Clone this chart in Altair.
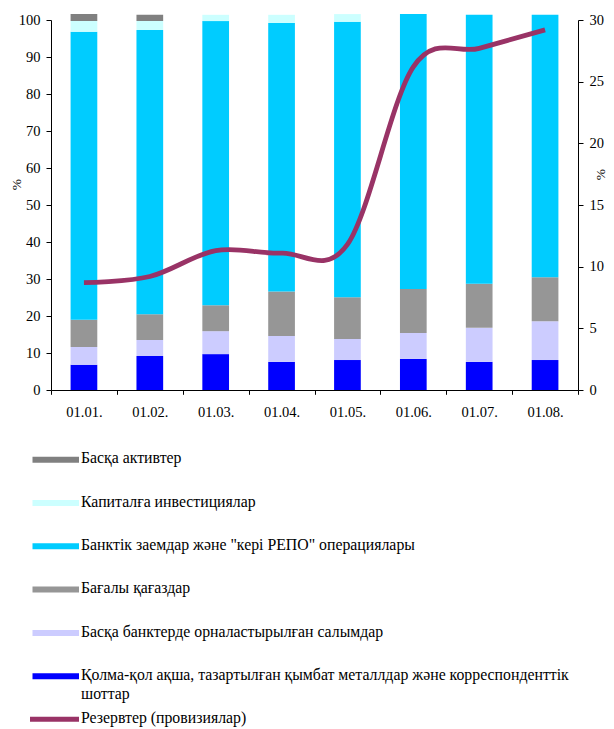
import altair as alt
import pandas as pd

# ---------------- data ----------------
dates = ["01.01.", "01.02.", "01.03.", "01.04.", "01.05.", "01.06.", "01.07.", "01.08."]

# legend order (top -> bottom in legend)
s_other = "Басқа активтер"
s_equity = "Капиталға инвестициялар"
s_loans = "Банктік заемдар және \"кері РЕПО\" операциялары"
s_secur = "Бағалы қағаздар"
s_depos = "Басқа банктерде орналастырылған салымдар"
s_cash = "Қолма-қол ақша, тазартылған қымбат металлдар және корреспонденттік шоттар"
s_reserve = "Резервтер (провизиялар)"

cash = [6.8, 9.2, 9.7, 7.6, 8.1, 8.4, 7.6, 8.1]
deposits = [4.8, 4.3, 6.2, 7.0, 5.7, 7.0, 9.2, 10.5]
securities = [7.4, 7.0, 7.0, 12.0, 11.3, 11.9, 11.9, 11.9]
loans = [77.8, 76.8, 76.8, 72.6, 74.4, 74.3, 72.7, 70.9]
equity = [2.9, 2.4, 1.7, 2.2, 2.1, 0.0, 0.0, 0.0]
other = [1.9, 1.7, 0.0, 0.0, 0.0, 0.0, 0.0, 0.0]

reserves = [8.7, 9.2, 11.3, 11.1, 11.8, 26.2, 27.7, 29.2]

legend_order = [s_other, s_equity, s_loans, s_secur, s_depos, s_cash]
colors = ["#808080", "#CCFFFF", "#00CCFF", "#969696", "#CCCCFF", "#0000FF"]

# stacking order bottom -> top
stack_series = [(s_cash, cash), (s_depos, deposits), (s_secur, securities),
                (s_loans, loans), (s_equity, equity), (s_other, other)]

rows = []
for i, d in enumerate(dates):
    for k, (name, vals) in enumerate(stack_series):
        rows.append({"date": d, "series": name, "value": vals[i], "stack": k})
df_bars = pd.DataFrame(rows)
df_line = pd.DataFrame({"date": dates, "reserve": reserves, "name": [s_reserve] * len(dates)})

FONT = "Liberation Serif"
FS = 14.5     # axis labels
LFS = 15.8    # legend labels

x_enc = alt.X(
    "date:N",
    sort=dates,
    scale=alt.Scale(paddingInner=0, paddingOuter=0),
    axis=alt.Axis(title=None, tickBand="extent", labelAngle=0, tickSize=4.3,
                  labelPadding=11.5, grid=False, labelFont=FONT, labelFontSize=FS),
)

bars = alt.Chart(df_bars).mark_bar(size=26.7).encode(
    x=x_enc,
    y=alt.Y(
        "value:Q",
        stack="zero",
        scale=alt.Scale(domain=[0, 100], nice=False),
        axis=alt.Axis(values=list(range(0, 101, 10)), tickSize=5, labelPadding=6, grid=False,
                      labelFont=FONT, labelFontSize=FS,
                      title="%", titleFont=FONT, titleFontSize=13.5, titleFontWeight="normal",
                      titleAngle=270, titleAlign="center", titleBaseline="middle",
                      titleX=-34.3, titleY=164),
    ),
    color=alt.Color(
        "series:N",
        scale=alt.Scale(domain=legend_order, range=colors),
        legend=alt.Legend(
            title=None, orient="none", legendX=-18.5, legendY=421.8, direction="vertical",
            symbolType="M-1.163,-0.307H1.163V-0.028H-1.163Z", symbolSize=1849,
            symbolStrokeWidth=0, rowPadding=0.3, clipHeight=43, labelOffset=5.5,
            labelBaseline="alphabetic", labelLimit=600, padding=0,
            labelFont=FONT, labelFontSize=LFS, labelColor="black",
            labelExpr="indexof(datum.label, ' шоттар') > 0 ? [slice(datum.label, 0, indexof(datum.label, ' шоттар')), 'шоттар'] : datum.label",
        ),
    ),
    order=alt.Order("stack:Q", sort="ascending"),
)

line = alt.Chart(df_line).mark_line(strokeWidth=4.8, interpolate="cardinal").encode(
    x=x_enc,
    y=alt.Y(
        "reserve:Q",
        scale=alt.Scale(domain=[0, 30], nice=False),
        axis=alt.Axis(orient="right", values=list(range(0, 31, 5)), tickSize=5, labelPadding=6,
                      grid=False, labelFont=FONT, labelFontSize=FS,
                      title="%", titleFont=FONT, titleFontSize=13.5, titleFontWeight="normal",
                      titleAngle=270, titleAlign="center",
                      titleBaseline="middle", titleX=22, titleY=154),
    ),
    stroke=alt.Stroke(
        "name:N",
        scale=alt.Scale(domain=[s_reserve], range=["#993366"]),
        legend=alt.Legend(
            title=None, orient="none", legendX=-21, legendY=678.9,
            symbolType="M-1.163,-0.167H1.163", symbolSize=1849, symbolStrokeWidth=5,
            clipHeight=48, labelOffset=3, labelBaseline="alphabetic", labelLimit=600, padding=0,
            labelFont=FONT, labelFontSize=LFS, labelColor="black",
        ),
    ),
)

chart = (
    alt.layer(bars, line)
    .resolve_scale(y="independent", color="independent")
    .properties(
        width=527,
        height=370,
        autosize=alt.AutoSizeParams(type="none"),
        padding={"left": 43, "top": 12, "right": 28, "bottom": 345},
    )
    .configure(style={"guide-label": {"lineHeight": 19, "font": FONT},
                      "guide-title": {"font": FONT}})
    .configure_view(strokeWidth=0)
    .configure_axis(
        labelFont=FONT, labelFontSize=FS, labelColor="black",
        titleFont=FONT, titleFontSize=13.5, titleColor="black", titleFontWeight="normal",
        domainColor="black", tickColor="black", domainWidth=1, tickWidth=1,
    )
    .configure_legend(labelFont=FONT, labelFontSize=LFS, labelColor="black")
)

chart.save("out.html", embed_options={"renderer": "svg", "actions": False})
